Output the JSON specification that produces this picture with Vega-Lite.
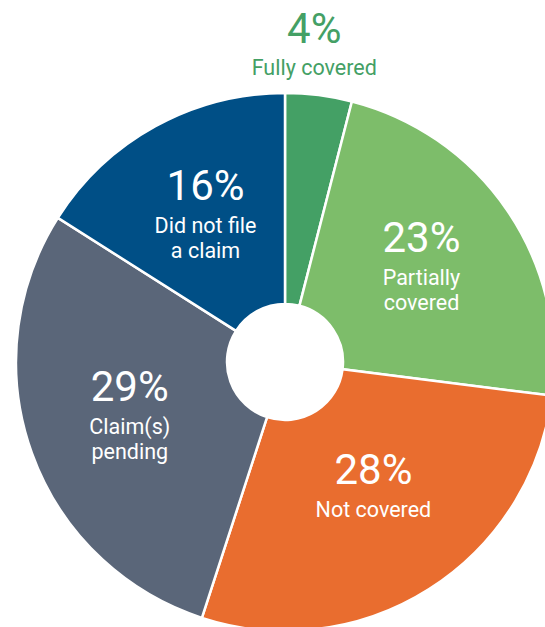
{
  "$schema": "https://vega.github.io/schema/vega-lite/v6.json",
  "autosize": "none",
  "padding": 0,
  "width": 570,
  "height": 724,
  "background": "white",
  "view": {"stroke": null},
  "data": {
    "values": [
      {"order": 1, "cat": "Fully covered", "pct": 4, "pctLabel": "4%", "label": "Fully covered"},
      {"order": 2, "cat": "Partially covered", "pct": 23, "pctLabel": "23%", "label": "Partially\ncovered"},
      {"order": 3, "cat": "Not covered", "pct": 28, "pctLabel": "28%", "label": "Not covered"},
      {"order": 4, "cat": "Claim(s) pending", "pct": 29, "pctLabel": "29%", "label": "Claim(s)\npending"},
      {"order": 5, "cat": "Did not file a claim", "pct": 16, "pctLabel": "16%", "label": "Did not file\na claim"}
    ]
  },
  "encoding": {
    "theta": {"field": "pct", "type": "quantitative", "stack": true},
    "order": {"field": "order", "type": "quantitative"}
  },
  "layer": [
    {
      "mark": {"type": "arc", "outerRadius": 269, "innerRadius": 58, "stroke": "white", "strokeWidth": 2.5},
      "encoding": {
        "color": {
          "field": "cat",
          "type": "nominal",
          "scale": {
            "domain": ["Fully covered", "Partially covered", "Not covered", "Claim(s) pending", "Did not file a claim"],
            "range": ["#44a065", "#7dbd6a", "#e96d2f", "#5a6679", "#004f86"]
          },
          "legend": null
        }
      }
    },
    {
      "mark": {"type": "text", "font": "Roboto", "fontSize": 42, "fill": "white", "align": "center", "baseline": "alphabetic", "dy": -17},
      "encoding": {
        "detail": {"field": "cat"},
        "radius": {"value": 165},
        "text": {"condition": {"test": "datum.cat !== 'Fully covered'", "field": "pctLabel", "type": "nominal"}, "value": ""}
      }
    },
    {
      "mark": {"type": "text", "font": "Roboto", "fontSize": 21.5, "fill": "white", "align": "center", "baseline": "alphabetic", "dy": 16, "lineBreak": "\n", "lineHeight": 25},
      "encoding": {
        "detail": {"field": "cat"},
        "radius": {"value": 165},
        "text": {"condition": {"test": "datum.cat !== 'Fully covered'", "field": "label", "type": "nominal"}, "value": ""}
      }
    },
    {
      "mark": {"type": "text", "font": "Roboto", "fontSize": 42, "fill": "#44a065", "align": "center", "baseline": "alphabetic", "dy": -16, "dx": -9},
      "encoding": {
        "detail": {"field": "cat"},
        "radius": {"value": 305},
        "text": {"condition": {"test": "datum.cat === 'Fully covered'", "field": "pctLabel", "type": "nominal"}, "value": ""}
      }
    },
    {
      "mark": {"type": "text", "font": "Roboto", "fontSize": 21.5, "fill": "#44a065", "align": "center", "baseline": "alphabetic", "dy": 16, "dx": -9},
      "encoding": {
        "detail": {"field": "cat"},
        "radius": {"value": 305},
        "text": {"condition": {"test": "datum.cat === 'Fully covered'", "field": "label", "type": "nominal"}, "value": ""}
      }
    }
  ]
}
